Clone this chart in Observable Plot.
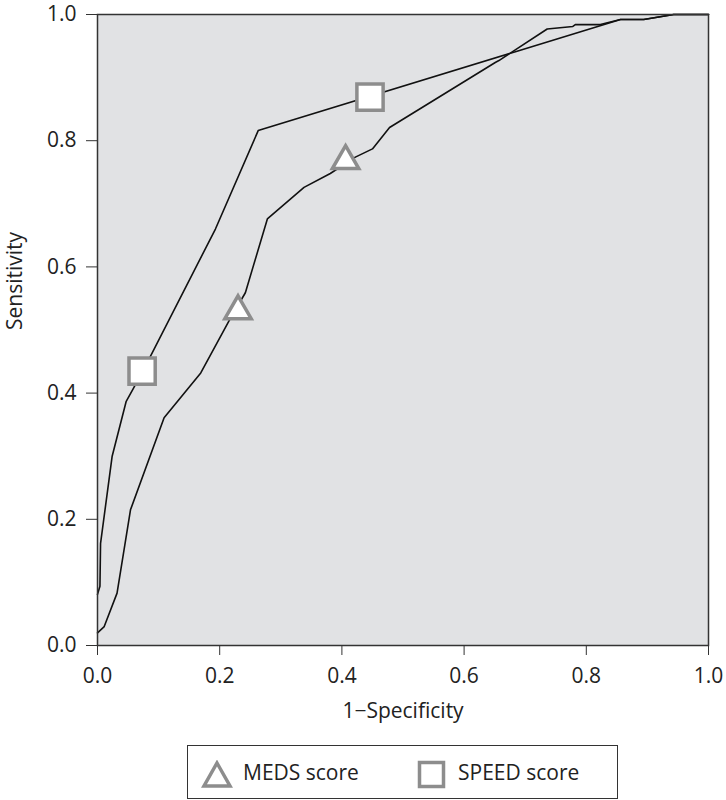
<!DOCTYPE html>
<html>
<head>
<meta charset="utf-8">
<script src="https://cdn.jsdelivr.net/npm/d3@7"></script>
<script src="https://cdn.jsdelivr.net/npm/@observablehq/plot@0.6"></script>
<style>
  html, body { margin: 0; padding: 0; background: #fff; }
  body { width: 726px; height: 800px; position: relative; overflow: hidden; font-family: "Open Sans", sans-serif; }
  #legend { position: absolute; left: 187px; top: 745px; width: 431px; height: 54px; box-sizing: border-box; border: 1.5px solid #333; }
  .lg-text { position: absolute; font-size: 21px; color: #222; top: 12px; white-space: nowrap; }
</style>
</head>
<body>
<div id="chart"></div>
<div id="legend">
  <svg style="position:absolute;left:13px;top:14px" width="32" height="30">
    <polygon points="16,3 29,26 3,26" fill="#fff" stroke="#8d8d8d" stroke-width="3.5" stroke-linejoin="miter"/>
  </svg>
  <div class="lg-text" style="left:55px">MEDS score</div>
  <svg style="position:absolute;left:229px;top:14px" width="30" height="30">
    <rect x="2.5" y="2.5" width="24" height="24" fill="#fff" stroke="#8d8d8d" stroke-width="3.5"/>
  </svg>
  <div class="lg-text" style="left:270px">SPEED score</div>
</div>
<script>
// SPEED score ROC curve (1-specificity, sensitivity)
const speedX = [0, 0.004, 0.005, 0.024, 0.047, 0.059, 0.087, 0.193, 0.263, 0.684, 0.856, 0.894, 0.943, 1.0];
const speedY = [0.081, 0.094, 0.162, 0.30, 0.387, 0.408, 0.459, 0.66, 0.816, 0.941, 0.992, 0.992, 1.0, 1.0];
// MEDS score ROC curve
const medsX = [0, 0.011, 0.032, 0.054, 0.109, 0.169, 0.215, 0.242, 0.278, 0.338, 0.381, 0.422, 0.450, 0.478, 0.651, 0.657, 0.736, 0.778, 0.782, 0.823, 0.856, 0.894, 0.943, 1.0];
const medsY = [0.02, 0.03, 0.083, 0.215, 0.361, 0.432, 0.514, 0.559, 0.676, 0.726, 0.748, 0.774, 0.787, 0.821, 0.924, 0.927, 0.977, 0.981, 0.984, 0.984, 0.992, 0.992, 1.0, 1.0];
// Cut-off markers
const medsMarkX = [0.230, 0.406];
const medsMarkY = [0.530, 0.768];
const speedMarkX = [0.073, 0.446];
const speedMarkY = [0.435, 0.869];
// Ticks and labels
const ticks = [0, 0.2, 0.4, 0.6, 0.8, 1.0];
const xLabel = "1\u2212Specificity";
const yLabel = "Sensitivity";

const zip = (xs, ys) => xs.map((x, i) => ({x, y: ys[i]}));
const speed = zip(speedX, speedY);
const meds = zip(medsX, medsY);
const medsMarks = zip(medsMarkX, medsMarkY);
const speedMarks = zip(speedMarkX, speedMarkY);

const markerGray = "#8d8d8d";

const chart = Plot.plot({
  width: 726,
  height: 730,
  marginTop: 14,
  marginLeft: 97,
  marginRight: 18,
  marginBottom: 85,
  style: { fontFamily: "Open Sans, sans-serif", fontSize: "21px", color: "#222", background: "#fff" },
  x: { domain: [0, 1] },
  y: { domain: [0, 1] },
  marks: [
    Plot.frame({ fill: "#e1e2e4" }),
    Plot.line(meds, { x: "x", y: "y", stroke: "#111", strokeWidth: 1.6 }),
    Plot.line(speed, { x: "x", y: "y", stroke: "#111", strokeWidth: 1.6 }),
    Plot.dot(medsMarks, { x: "x", y: "y", symbol: "triangle", r: 9.8, fill: "#fff", stroke: markerGray, strokeWidth: 3.5 }),
    Plot.dot(speedMarks, { x: "x", y: "y", symbol: "square", r: 14.8, fill: "#fff", stroke: markerGray, strokeWidth: 3.5 }),
    Plot.frame({ stroke: "#333", strokeWidth: 1.5 }),
    Plot.axisX({ ticks, tickFormat: d3.format(".1f"), tickSize: 10, tickPadding: 13, label: null, stroke: "#333" }),
    Plot.axisY({ ticks, tickFormat: d3.format(".1f"), tickSize: 11, tickPadding: 10, label: null, stroke: "#333" }),
    Plot.text([xLabel], { frameAnchor: "bottom", dy: 72, fill: "#222" }),
    Plot.text([yLabel], { frameAnchor: "left", dx: -82, rotate: -90, fill: "#222" })
  ]
});
document.getElementById("chart").appendChild(chart);
</script>
</body>
</html>
